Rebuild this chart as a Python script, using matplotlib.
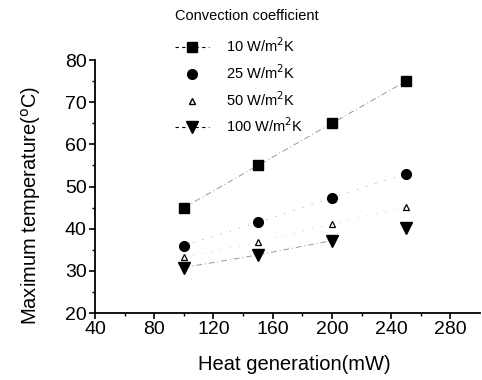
import matplotlib
matplotlib.use("Agg")
import matplotlib.pyplot as plt
from matplotlib.lines import Line2D

plt.rcParams['font.family'] = ['Liberation Sans', 'DejaVu Sans']

heat = [100, 150, 200, 250]
t10 = [45, 55, 65, 75]
t25 = [36, 41.5, 47.4, 53]
t50 = [33.3, 36.8, 41.1, 45.2]
t100 = [30.8, 33.8, 37.2, 40.2]
labels = ["10 W/m$^2$K", "25 W/m$^2$K", "50 W/m$^2$K", "100 W/m$^2$K"]

fig = plt.figure(figsize=(4.82, 3.80), dpi=100)
ax = fig.add_axes([0.197, 0.176, 0.799, 0.666])

ls = (0, (6, 3, 1, 3))
ax.plot(heat, t10, color='#999999', lw=0.7, ls=ls, zorder=1)
ax.plot(heat, t25, color='#aaaaaa', lw=0.6, ls=(0, (1.5, 10)), zorder=1)
ax.plot(heat, t50, color='#bbbbbb', lw=0.5, ls=(0, (1.5, 12)), zorder=1)
ax.plot(heat[:3], t100[:3], color='#999999', lw=0.7, ls=ls, zorder=1)

ax.plot(heat, t10, ls='none', marker='s', ms=7, color='black', zorder=3)
ax.plot(heat, t25, ls='none', marker='o', ms=7, color='black', zorder=3)
ax.plot(heat, t50, ls='none', marker='^', ms=4.5, mfc='white', mec='black', mew=0.9, zorder=3)
ax.plot(heat, t100, ls='none', marker='v', ms=8, color='black', zorder=3)

ax.set_xlim(40, 300)
ax.set_ylim(20, 80)
ax.set_xticks([40, 80, 120, 160, 200, 240, 280])
ax.set_yticks([20, 30, 40, 50, 60, 70, 80])
ax.set_xticks(range(60, 300, 40), minor=True)
ax.set_yticks(range(25, 80, 10), minor=True)
ax.spines['top'].set_visible(False)
ax.spines['right'].set_visible(False)
ax.spines['left'].set_linewidth(1.3)
ax.spines['bottom'].set_linewidth(1.3)
ax.tick_params(which='major', direction='out', length=4, width=1.2, labelsize=14, pad=2)
ax.tick_params(which='minor', direction='out', length=2.5, width=1)
ax.set_xlabel("Heat generation(mW)", fontsize=14.5)
ax.set_ylabel("Maximum temperature($^{\\rm o}$C)", fontsize=14.5)
ax.xaxis.set_label_coords(0.517, -0.165)
ax.yaxis.set_label_coords(-0.135, 0.427)

handles = [
    Line2D([], [], color='black', marker='s', ms=7, ls=(0, (3, 3)), lw=0.8),
    Line2D([], [], color='black', marker='o', ms=7, ls='none'),
    Line2D([], [], color='black', marker='^', ms=4.5, mfc='white', mec='black', ls='none'),
    Line2D([], [], color='black', marker='v', ms=8, ls=(0, (3, 3)), lw=0.8),
]
leg = fig.legend(handles, labels, title="Convection coefficient", frameon=False,
                 loc='upper left', bbox_to_anchor=(0.336, 1.01), fontsize=10.5,
                 title_fontsize=10.5, handlelength=2.3, labelspacing=0.54,
                 handletextpad=1.2)
leg._legend_box.align = "left"
leg._legend_box.sep = leg._legend_box.sep + 4

fig.savefig("out.png", dpi=100)
